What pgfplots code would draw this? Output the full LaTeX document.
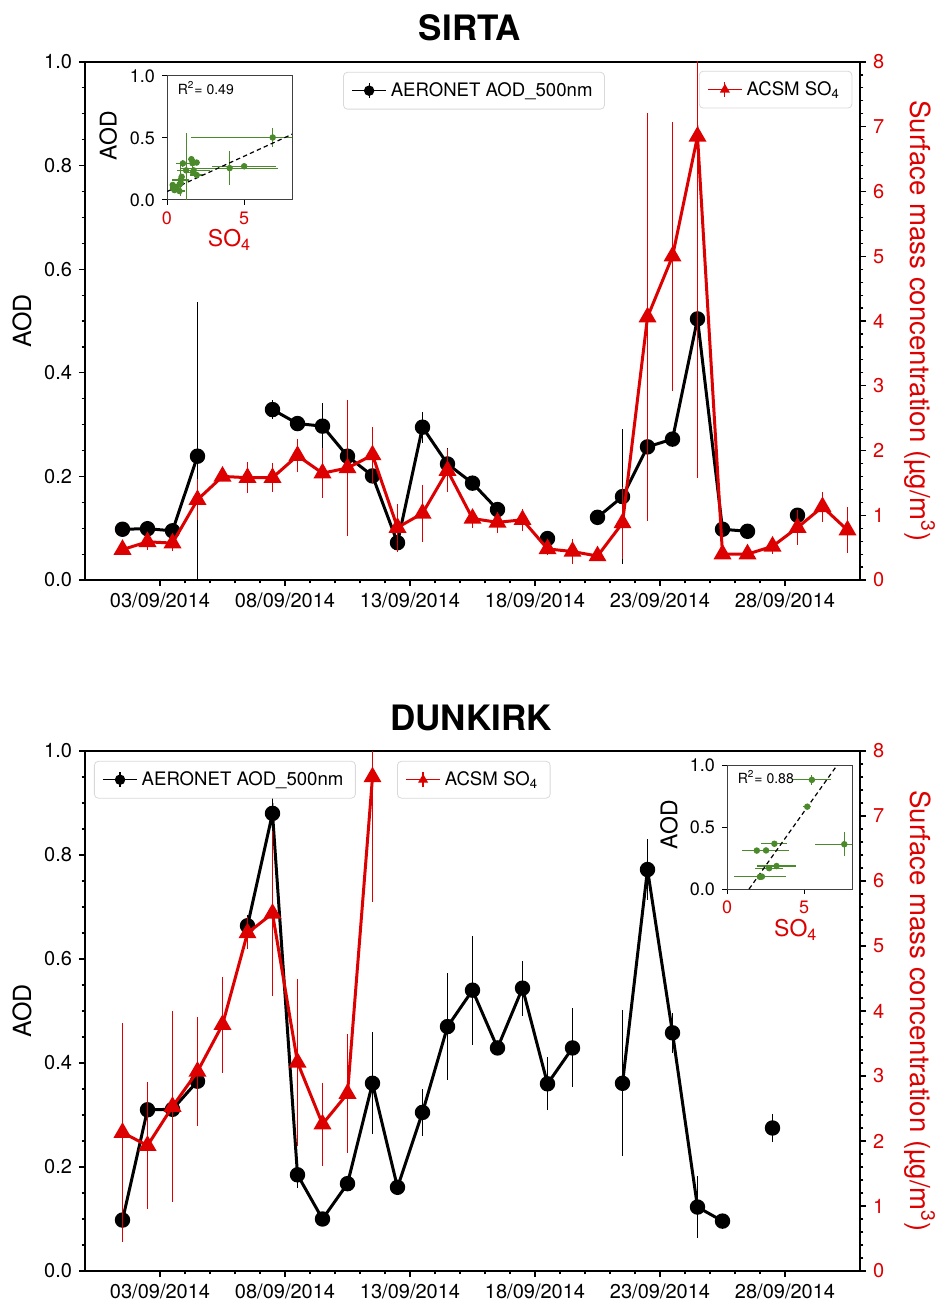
\documentclass[border=0pt]{standalone}
\usepackage{fontspec}
\setmainfont{TeX Gyre Heros}
\usepackage{pgfplots}
\pgfplotsset{compat=1.18}
\usepackage{pgfplotstable}

\definecolor{sored}{RGB}{221,0,0}
\definecolor{fitgreen}{RGB}{74,138,42}

% daily means, x = day of September (noon)
\pgfplotstableread{
x y ey
1.5 0.098 0.005
2.5 0.099 0.015
3.5 0.095 0.005
4.5 0.239 0.298
5.5 nan 0
6.5 nan 0
7.5 0.329 0.018
8.5 0.302 0.008
9.5 0.297 0.045
10.5 0.239 0.010
11.5 0.201 0.012
12.5 0.072 0.015
13.5 0.295 0.030
14.5 0.224 0.031
15.5 0.187 0.008
16.5 0.136 0.008
17.5 nan 0
18.5 0.080 0.005
19.5 nan 0
20.5 0.121 0.010
21.5 0.161 0.131
22.5 0.257 0.140
23.5 0.272 0.010
24.5 0.504 0.080
25.5 0.098 0.005
26.5 0.094 0.005
27.5 nan 0
28.5 0.125 0.008
}\sirtaaod

\pgfplotstableread{
x y ey
1.5 0.47 0.08
2.5 0.59 0.13
3.5 0.57 0.12
4.5 1.24 0.32
5.5 1.60 0.05
6.5 1.58 0.24
7.5 1.58 0.22
8.5 1.92 0.25
9.5 1.65 0.39
10.5 1.73 1.05
11.5 1.93 0.43
12.5 0.81 0.37
13.5 1.03 0.44
14.5 1.69 0.33
15.5 0.95 0.15
16.5 0.89 0.16
17.5 0.93 0.17
18.5 0.48 0.10
19.5 0.44 0.19
20.5 0.37 0.08
21.5 0.88 0.55
22.5 4.06 3.15
23.5 5.00 2.08
24.5 6.85 5.28
25.5 0.40 0.05
26.5 0.40 0.05
27.5 0.52 0.12
28.5 0.81 0.27
29.5 1.13 0.23
30.5 0.77 0.36
}\sirtaso

\pgfplotstableread{
so ex aod ey
0.47 0.08 0.098 0.005
0.59 0.13 0.099 0.015
0.57 0.12 0.095 0.005
1.24 0.32 0.239 0.298
1.58 0.22 0.329 0.018
1.92 0.25 0.302 0.008
1.65 0.39 0.297 0.045
1.73 1.05 0.239 0.010
1.93 0.43 0.201 0.012
0.81 0.37 0.072 0.015
1.03 0.44 0.295 0.030
1.69 0.33 0.224 0.031
0.95 0.15 0.187 0.008
0.89 0.16 0.136 0.008
0.48 0.10 0.080 0.005
0.37 0.08 0.121 0.010
0.88 0.55 0.161 0.131
4.06 3.15 0.257 0.140
5.00 2.08 0.272 0.010
6.85 5.28 0.504 0.080
0.40 0.05 0.098 0.005
0.40 0.05 0.094 0.005
0.81 0.27 0.125 0.008
}\sirtascat

\pgfplotstableread{
x y ey
1.5 0.098 0.010
2.5 0.310 0.010
3.5 0.311 0.010
4.5 0.365 0.015
5.5 nan 0
6.5 0.664 0.020
7.5 0.880 0.043
8.5 0.185 0.025
9.5 0.100 0.005
10.5 0.168 0.010
11.5 0.361 0.098
12.5 0.161 0.005
13.5 0.305 0.045
14.5 0.470 0.103
15.5 0.540 0.105
16.5 0.429 0.012
17.5 0.544 0.053
18.5 0.360 0.051
19.5 0.429 0.076
20.5 nan 0
21.5 0.361 0.140
22.5 0.772 0.058
23.5 0.458 0.038
24.5 0.123 0.059
25.5 0.096 0.005
26.5 nan 0
27.5 0.275 0.027
}\dunkaod

\pgfplotstableread{
x y ey
1.5 2.13 1.68
2.5 1.93 0.98
3.5 2.53 1.47
4.5 3.07 0.84
5.5 3.79 0.74
6.5 5.20 0.25
7.5 5.50 1.27
8.5 3.21 1.29
9.5 2.26 0.64
10.5 2.73 0.92
11.5 7.60 1.93
}\dunkso

\pgfplotstableread{
so ex aod ey
2.13 1.68 0.098 0.010
1.93 0.98 0.310 0.010
2.53 1.47 0.311 0.010
3.07 0.84 0.365 0.015
5.20 0.25 0.664 0.020
5.50 1.27 0.880 0.043
3.21 1.29 0.185 0.025
2.26 0.64 0.100 0.005
2.73 0.92 0.168 0.010
7.60 1.93 0.361 0.098
}\dunkscat

\pgfplotsset{
  barlegend/.style={legend image code/.code={
    \draw[##1, line width=0.6pt, mark=none] (0cm,0cm) -- (0.6cm,0cm);
    \draw[##1, line width=0.6pt, mark=none] (0.3cm,-0.13cm) -- (0.3cm,0.13cm);
    \draw[##1, line width=0.6pt, mark size=2.3pt] plot coordinates {(0.3cm,0cm)};
  }},
  boxlegend/.style={legend style={at={#1}, anchor=north west,
    draw=black!15, rounded corners=2pt, fill=white,
    font=\fontsize{9.3}{11}\selectfont, inner xsep=4pt, inner ysep=3pt,
    legend cell align=left}},
  base/.style={
    scale only axis, width=387.5pt, xmin=0, xmax=31,
    tick align=outside, major tick length=3pt, minor tick length=1.7pt,
    every tick/.style={black, line width=0.6pt},
    axis line style={line width=0.65pt},
    tick label style={font=\fontsize{10}{12}\selectfont},
    /pgf/number format/assume math mode=true,
    unbounded coords=jump,
  },
  leftax/.style={base,
    ymin=0, ymax=1, ytick={0,0.2,...,1.0}, minor y tick num=3,
    yticklabel style={/pgf/number format/.cd, fixed, fixed zerofill, precision=1},
    xtick={3,8,13,18,23,28}, minor x tick num=4,
    xticklabels={03/09/2014,08/09/2014,13/09/2014,18/09/2014,23/09/2014,28/09/2014},
    xtick pos=left, ytick pos=left,
    ylabel={AOD},
    every axis y label/.style={at={(axis description cs:-0.0813,0.5)}, anchor=center, rotate=90,
      font=\fontsize{12.5}{14}\selectfont},
  },
  rightax/.style={base,
    axis y line*=right, axis x line=none,
    ymin=0, ymax=8, ytick={0,1,...,8}, minor y tick num=4,
    yticklabel style={sored},
    ylabel={Surface mass concentration (µg/m\textsuperscript{3})},
    every axis y label/.style={at={(axis description cs:1.0774,0.5)}, anchor=center, rotate=-90,
      font=\fontsize{13.8}{15}\selectfont, text=sored},
  },
  aodplot/.style={black, line width=1.5pt, mark=*, mark size=3.1pt,
    error bars/.cd, y dir=both, y explicit, error mark=none,
    error bar style={line width=0.5pt, black}},
  soplot/.style={sored, line width=1.5pt, mark=triangle*, mark size=3.7pt,
    error bars/.cd, y dir=both, y explicit, error mark=none,
    error bar style={line width=0.5pt, sored}},
  inset/.style={
    scale only axis, width=62.5pt, height=62pt,
    xmin=0, xmax=8.1, ymin=0, ymax=1.0,
    xtick={0,5}, ytick={0,0.5,1.0},
    tick align=outside, major tick length=2.5pt,
    xtick pos=left, ytick pos=left,
    every tick/.style={black, line width=0.5pt},
    axis line style={line width=0.5pt, black!75},
    axis background/.style={fill=white},
    tick label style={font=\fontsize{9}{10}\selectfont},
    xticklabel style={sored},
    yticklabel style={/pgf/number format/.cd, fixed, fixed zerofill, precision=1},
    /pgf/number format/assume math mode=true,
    ylabel={AOD}, xlabel={SO\textsubscript{4}},
    every axis y label/.style={at={(axis description cs:-0.47,0.52)}, anchor=center, rotate=90,
      font=\fontsize{11.5}{13}\selectfont},
    every axis x label/.style={at={(axis description cs:0.5,-0.32)}, anchor=center,
      font=\fontsize{11.5}{13}\selectfont, text=sored},
  },
  scatplot/.style={only marks, fitgreen, mark=*, mark size=1.4pt,
    error bars/.cd, x dir=both, x explicit, y dir=both, y explicit, error mark=none,
    error bar style={line width=0.6pt, fitgreen}},
}

\begin{document}
\begin{tikzpicture}
\useasboundingbox (0,0) rectangle (468pt,-652.5pt);

% ---- SIRTA ----
\node[font=\fontsize{17.5}{20}\bfseries\selectfont] at (235pt,-14pt) {SIRTA};
\begin{axis}[leftax, at={(42.5pt,-31pt)}, anchor=north west, height=259pt,
  barlegend, boxlegend={(0.333,0.981)}]
\addplot[aodplot] table[x=x, y=y, y error=ey] {\sirtaaod};
\addlegendentry{AERONET AOD\_500nm}
\end{axis}
\begin{axis}[rightax, at={(42.5pt,-31pt)}, anchor=north west, height=259pt,
  barlegend, boxlegend={(0.792,0.983)}]
\addplot[soplot] table[x=x, y=y, y error=ey] {\sirtaso};
\addlegendentry{ACSM SO\textsubscript{4}}
\end{axis}
\begin{axis}[inset, at={(83.5pt,-38pt)}, anchor=north west]
\addplot[scatplot] table[x=so, y=aod, x error=ex, y error=ey] {\sirtascat};
\addplot[black, line width=0.6pt, dash pattern=on 2.2pt off 1.6pt] coordinates {(0,0.068) (8.1,0.530)};
\node[anchor=west, font=\fontsize{7}{8}\selectfont] at (rel axis cs:0.03,0.9) {R\textsuperscript{2}= 0.49};
\end{axis}

% ---- DUNKIRK ----
\node[font=\fontsize{17.5}{20}\bfseries\selectfont] at (235.5pt,-359pt) {DUNKIRK};
\begin{axis}[leftax, at={(42.5pt,-375.5pt)}, anchor=north west, height=260pt,
  barlegend, boxlegend={(0.0116,0.981)}]
\addplot[aodplot] table[x=x, y=y, y error=ey] {\dunkaod};
\addlegendentry{AERONET AOD\_500nm}
\end{axis}
\begin{axis}[rightax, at={(42.5pt,-375.5pt)}, anchor=north west, height=260pt,
  barlegend, boxlegend={(0.4026,0.981)}]
\addplot[soplot] table[x=x, y=y, y error=ey] {\dunkso};
\addlegendentry{ACSM SO\textsubscript{4}}
\end{axis}
\begin{axis}[inset, at={(363.5pt,-382.5pt)}, anchor=north west,
  every axis y label/.style={at={(axis description cs:-0.464,0.52)}, anchor=center, rotate=90,
      font=\fontsize{11.5}{13}\selectfont},
  every axis x label/.style={at={(axis description cs:0.55,-0.33)}, anchor=center,
      font=\fontsize{11.5}{13}\selectfont, text=sored}]
\addplot[scatplot] table[x=so, y=aod, x error=ex, y error=ey] {\dunkscat};
\addplot[black, line width=0.6pt, dash pattern=on 2.2pt off 1.6pt] coordinates {(1.43,0) (7.2,1.01)};
\node[anchor=west, font=\fontsize{7}{8}\selectfont] at (rel axis cs:0.03,0.9) {R\textsuperscript{2}= 0.88};
\end{axis}
\end{tikzpicture}
\end{document}
